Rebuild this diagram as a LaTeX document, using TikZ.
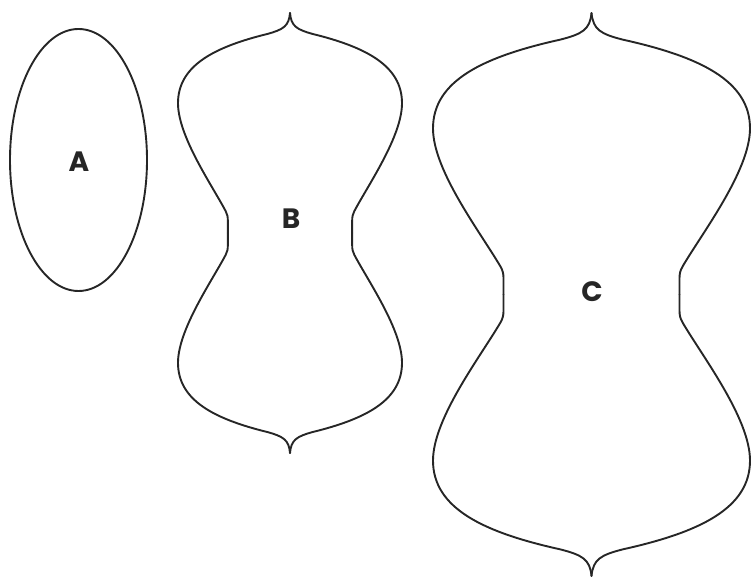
\documentclass[tikz,border=0pt]{standalone}
\usepackage{fontspec}
\setmainfont{Poppins}
\usetikzlibrary{shapes.geometric}
\begin{document}
\begin{tikzpicture}[x=1pt,y=1pt,
  outline/.style={draw=black!85,line width=1.9pt,line join=round,line cap=round},
  lbl/.style={font=\fontsize{28}{28}\selectfont\bfseries,text=black!85}]
\useasboundingbox (0,0) rectangle (751,578);
\newcommand\petalquarter{%
  \draw[outline] (0.555,0) -- (0.555,0.055)
    .. controls (0.555,0.075) and (0.56,0.085) .. (0.575,0.1)
    .. controls (0.7,0.22) and (1.0,0.44) .. (1.0,0.59)
    .. controls (1.0,0.76) and (0.68,0.845) .. (0.2,0.905)
    .. controls (0.06,0.925) and (0.01,0.94) .. (0,1);}
\newcommand\petalshape[4]{%
  \begin{scope}[shift={(#1,#2)},xscale=#3,yscale=#4]
    \foreach \sx/\sy in {1/1,-1/1,1/-1,-1/-1}{
      \begin{scope}[xscale=\sx,yscale=\sy]\petalquarter\end{scope}}
  \end{scope}}
% A
\node[outline,ellipse,minimum width=137pt,minimum height=262pt,inner sep=0pt] (A) at (78.5,418) {};
\node[lbl] (Alabel) at (79,416) {A};
% B
\petalshape{290}{345}{112}{220}
\node[lbl] (Blabel) at (291,359) {B};
% C
\petalshape{591.5}{283.5}{158.5}{281.5}
\node[lbl] (Clabel) at (592,286) {C};
\end{tikzpicture}
\end{document}
